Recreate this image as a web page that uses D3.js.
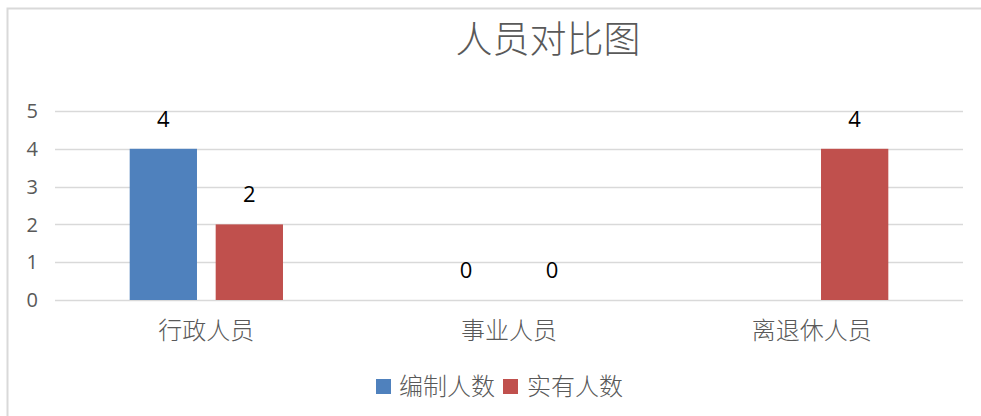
<!DOCTYPE html>
<html>
<head>
<meta charset="utf-8">
<script src="https://cdn.jsdelivr.net/npm/d3@7"></script>
<style>
  html, body { margin: 0; padding: 0; background: #fff; }
  svg { display: block; }
</style>
</head>
<body>
<svg id="chart" width="981" height="416"></svg>
<script>
const title = "人员对比图";
const categories = ["行政人员", "事业人员", "离退休人员"];
const seriesNames = ["编制人数", "实有人数"];
const staffQuota = [4, 0, null];
const actualStaff = [2, 0, 4];
const yTicks = [0, 1, 2, 3, 4, 5];
const colors = ["#4f81bd", "#c0504d"];

const seriesValues = [staffQuota, actualStaff];
const svg = d3.select("#chart");
const W = 981, H = 416;
const cjk = "'Noto Sans CJK SC', 'Noto Sans', sans-serif";
const num = "'Open Sans', 'Liberation Sans', sans-serif";

// chart border (extends beyond right/bottom like the cropped original)
svg.append("rect").attr("x", 7.5).attr("y", 8.5).attr("width", W + 20).attr("height", H + 20)
  .attr("fill", "#fff").attr("stroke", "#d9d9d9").attr("stroke-width", 2);

const plot = { left: 55, right: 963, top: 111, bottom: 300 };

const y = d3.scaleLinear().domain([0, 5]).range([plot.bottom, plot.top]);
const x0 = d3.scaleBand().domain(categories).range([plot.left, plot.right]).padding(0);
const bw = x0.bandwidth();
const groupW = bw * 0.5065;
const x1 = d3.scaleBand().domain(seriesNames)
  .range([(bw - groupW) / 2, (bw + groupW) / 2]).paddingInner(0.2174).paddingOuter(0);

// gridlines
svg.append("g").selectAll("line").data(yTicks).join("line")
  .attr("x1", plot.left).attr("x2", plot.right)
  .attr("y1", d => Math.round(y(d)) + 0.5).attr("y2", d => Math.round(y(d)) + 0.5)
  .attr("stroke", "#d9d9d9").attr("stroke-width", 1.5);

// y tick labels
svg.append("g").selectAll("text").data(yTicks).join("text")
  .attr("x", 38).attr("y", d => y(d)).attr("dy", "0.36em")
  .attr("text-anchor", "end").attr("fill", "#595959")
  .attr("font-family", num).attr("font-size", 20)
  .text(d => d);

// bars
const rows = [];
categories.forEach((c, i) => seriesNames.forEach((s, j) => {
  rows.push({ cat: c, series: s, idx: j, value: seriesValues[j][i] });
}));
const valid = rows.filter(r => r.value !== null);

svg.append("g").selectAll("rect").data(valid).join("rect")
  .attr("x", d => x0(d.cat) + x1(d.series))
  .attr("y", d => y(d.value))
  .attr("width", x1.bandwidth())
  .attr("height", d => y(0) - y(d.value))
  .attr("fill", d => colors[d.idx]);

// data labels
svg.append("g").selectAll("text").data(valid).join("text")
  .attr("x", d => x0(d.cat) + x1(d.series) + x1.bandwidth() / 2)
  .attr("y", d => y(d.value) - 22)
  .attr("text-anchor", "middle").attr("fill", "#000")
  .attr("font-family", num).attr("font-size", 22)
  .text(d => d.value);

// category labels
svg.append("g").selectAll("text").data(categories).join("text")
  .attr("x", d => x0(d) + bw / 2).attr("y", 330).attr("dy", "0.36em")
  .attr("text-anchor", "middle").attr("fill", "#595959")
  .attr("font-family", cjk).attr("font-size", 24).attr("font-weight", 300)
  .text(d => d);

// title
svg.append("text").attr("x", 548).attr("y", 40).attr("dy", "0.36em")
  .attr("text-anchor", "middle").attr("fill", "#595959")
  .attr("font-family", cjk).attr("font-size", 37).attr("font-weight", 300)
  .text(title);

// legend
const legendItems = [
  { name: seriesNames[0], color: colors[0], sx: 376, tx: 399 },
  { name: seriesNames[1], color: colors[1], sx: 503, tx: 527 }
];
const lg = svg.append("g");
lg.selectAll("rect").data(legendItems).join("rect")
  .attr("x", d => d.sx).attr("y", 379).attr("width", 15).attr("height", 15)
  .attr("fill", d => d.color);
lg.selectAll("text").data(legendItems).join("text")
  .attr("x", d => d.tx).attr("y", 386).attr("dy", "0.36em")
  .attr("fill", "#595959").attr("font-family", cjk).attr("font-size", 24).attr("font-weight", 300)
  .text(d => d.name);
</script>
</body>
</html>
